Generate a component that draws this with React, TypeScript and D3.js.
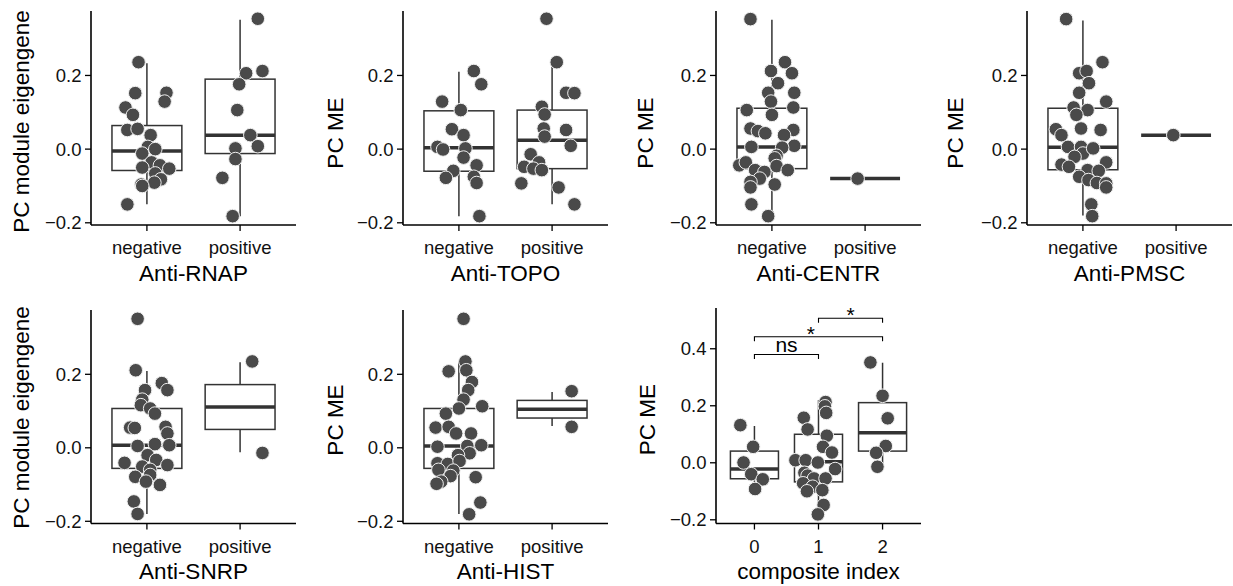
import * as d3 from "d3";

type Pt = [number, number]; // [eigengene value, horizontal jitter in category units]
type Box = [number, number, number, number, number]; // lower whisker, q1, median, q3, upper whisker

const posNeg = ["negative", "positive"];
const compositeCats = ["0", "1", "2"];

const ticksSmall = [-0.2, 0, 0.2];
const ticksWide = [-0.2, 0, 0.2, 0.4];

// Anti-RNAP
const rnapNeg: Pt[] = [[0.236,-0.09],[0.152,-0.125],[0.153,0.21],[0.129,0.19],[0.113,-0.23],[0.093,-0.15],[0.052,-0.21],[0.055,-0.1],[0.038,0.04],[0.006,0.01],[0.0,0.09],[-0.012,-0.05],[-0.036,0.05],[-0.05,-0.05],[-0.044,0.14],[-0.053,0.24],[-0.066,0.09],[-0.082,0.15],[-0.096,-0.06],[-0.091,0.08],[-0.1,-0.05],[-0.15,-0.21]];
const rnapPos: Pt[] = [[0.354,0.19],[0.206,0.065],[0.212,0.24],[0.176,-0.01],[0.106,-0.03],[0.038,0.11],[0.008,0.19],[0.002,-0.05],[-0.027,-0.05],[-0.078,-0.19],[-0.182,-0.08]];
const rnapBoxes: Box[] = [[-0.15,-0.058,-0.005,0.064,0.233],[-0.182,-0.012,0.038,0.19,0.351]];

// Anti-TOPO
const topoNeg: Pt[] = [[0.212,0.16],[0.176,0.24],[0.129,-0.18],[0.106,0.02],[0.054,-0.075],[0.038,0.05],[0.006,-0.23],[-0.001,-0.17],[0.002,0.07],[-0.023,0.05],[-0.044,0.19],[-0.059,-0.06],[-0.078,-0.14],[-0.075,0.16],[-0.092,0.19],[-0.182,0.22]];
const topoPos: Pt[] = [[0.354,-0.06],[0.236,0.05],[0.153,0.15],[0.152,0.24],[0.115,-0.11],[0.094,-0.08],[0.056,-0.09],[0.052,0.15],[0.034,-0.08],[0.009,0.2],[-0.014,-0.23],[-0.036,-0.14],[-0.048,-0.3],[-0.053,-0.2],[-0.057,-0.11],[-0.093,-0.33],[-0.104,0.07],[-0.15,0.24]];
const topoBoxes: Box[] = [[-0.182,-0.06,0.004,0.104,0.21],[-0.15,-0.053,0.024,0.106,0.233]];

// Anti-CENTR
const centrNeg: Pt[] = [[0.353,-0.23],[0.236,0.14],[0.212,-0.01],[0.206,0.215],[0.179,0.065],[0.153,-0.04],[0.153,0.24],[0.129,-0.01],[0.113,0.23],[0.106,-0.27],[0.093,0],[0.056,-0.23],[0.049,-0.15],[0.052,0.23],[0.038,0.13],[0.043,-0.07],[0.006,-0.22],[0.009,0.24],[0.004,0.11],[-0.018,0.05],[-0.025,0.03],[-0.044,-0.35],[-0.036,-0.28],[-0.057,-0.18],[-0.046,0.05],[-0.057,0.17],[-0.062,-0.08],[-0.08,-0.13],[-0.089,-0.23],[-0.104,-0.23],[-0.096,0.03],[-0.15,-0.22],[-0.182,-0.04]];
const centrPos: Pt[] = [[-0.08,-0.08]];
const centrBoxes: Box[] = [[-0.182,-0.053,0.006,0.111,0.351],[-0.08,-0.08,-0.08,-0.08,-0.08]];

// Anti-PMSC
const pmscNeg: Pt[] = [[0.353,-0.18],[0.236,0.21],[0.206,-0.04],[0.212,0.04],[0.179,0.065],[0.153,-0.04],[0.129,0.25],[0.113,-0.1],[0.106,0.05],[0.093,-0.07],[0.054,-0.29],[0.038,-0.23],[0.056,-0.02],[0.052,0.19],[0.006,-0.16],[0.006,-0.02],[-0.012,0],[0.002,0.11],[-0.021,-0.09],[-0.036,0.25],[-0.042,-0.23],[-0.048,-0.15],[-0.057,0.05],[-0.059,0.17],[-0.075,-0.04],[-0.084,0.06],[-0.092,0.15],[-0.093,0.25],[-0.104,0.25],[-0.15,0.09],[-0.182,0.1]];
const pmscPos: Pt[] = [[0.038,-0.03]];
const pmscBoxes: Box[] = [[-0.18,-0.056,0.005,0.111,0.349],[0.038,0.038,0.038,0.038,0.038]];

// Anti-SNRP
const snrpNeg: Pt[] = [[0.351,-0.1],[0.211,-0.12],[0.176,0.16],[0.157,0.22],[0.157,-0.02],[0.131,-0.05],[0.116,-0.065],[0.107,0.035],[0.093,0.086],[0.055,-0.18],[0.054,-0.13],[0.057,0.2],[0.039,0.22],[0.007,0.24],[0.01,0.086],[0.005,-0.1],[-0.02,0.007],[-0.033,0.1],[-0.041,-0.24],[-0.047,0.22],[-0.051,-0.05],[-0.06,0.035],[-0.079,-0.125],[-0.074,0.035],[-0.092,-0.01],[-0.101,0.14],[-0.146,-0.14],[-0.18,-0.1]];
const snrpPos: Pt[] = [[0.235,0.13],[-0.014,0.24]];
const snrpBoxes: Box[] = [[-0.18,-0.056,0.007,0.107,0.209],[-0.012,0.05,0.111,0.172,0.233]];

// Anti-HIST
const histNeg: Pt[] = [[0.351,0.05],[0.235,0.07],[0.211,0.08],[0.208,-0.11],[0.179,0.14],[0.157,0.1],[0.131,0.05],[0.113,0.25],[0.107,0],[0.093,-0.14],[0.055,-0.25],[0.057,-0.11],[0.039,-0.03],[0.039,0.13],[0.003,-0.23],[0.005,0.09],[0.007,0.24],[-0.015,0.115],[-0.02,-0.01],[-0.042,-0.23],[-0.044,-0.12],[-0.036,0.007],[-0.06,-0.22],[-0.062,-0.06],[-0.08,0.18],[-0.077,-0.09],[-0.092,-0.19],[-0.098,-0.24],[-0.149,0.23],[-0.181,0.11]];
const histPos: Pt[] = [[0.154,0.21],[0.057,0.21]];
const histBoxes: Box[] = [[-0.18,-0.056,0.005,0.107,0.233],[0.059,0.081,0.105,0.129,0.152]];

// composite index
const comp0: Pt[] = [[0.132,-0.22],[0.056,-0.02],[0.001,-0.17],[-0.04,-0.05],[-0.058,0.13],[-0.092,0.01]];
const comp1: Pt[] = [[0.213,0.11],[0.198,0.1],[0.175,0.12],[0.158,-0.23],[0.117,-0.17],[0.095,0.13],[0.056,0.07],[0.036,0.21],[0.009,-0.36],[0.009,-0.2],[0.001,-0.01],[-0.022,0.26],[-0.035,-0.22],[-0.045,-0.17],[-0.055,-0.07],[-0.055,0.11],[-0.072,-0.24],[-0.084,-0.09],[-0.096,0.06],[-0.1,-0.18],[-0.148,0.08],[-0.181,-0.01]];
const comp2: Pt[] = [[0.352,-0.19],[0.235,0],[0.156,0.08],[0.059,0.05],[0.035,-0.1],[-0.014,-0.08]];
const compBoxes: Box[] = [[-0.092,-0.056,-0.022,0.041,0.129],[-0.178,-0.067,0.004,0.1,0.22],[-0.014,0.041,0.105,0.211,0.351]];

// comparisons: [from index, to index, y value, label, label position in category units]
const compBrackets: [number, number, number, string, number][] = [
  [0, 1, 0.38, "ns", 0.5],
  [0, 2, 0.442, "*", 0.88],
  [1, 2, 0.507, "*", 1.5],
];

const FONT = "'Liberation Sans', Arial, Helvetica, sans-serif";
const PANEL_W = 205;
const DOMAIN_A: [number, number] = [-0.206, 0.375];
const DOMAIN_B: [number, number] = [-0.213, 0.543];

const panels = [
  { title: "Anti-RNAP", yLab: "PC module eigengene", cats: posNeg, pts: [rnapNeg, rnapPos], boxes: rnapBoxes, x0: 91, top: 11, bottom: 225, labX: 28.5, labY: 121.5, domain: DOMAIN_A, ticks: ticksSmall },
  { title: "Anti-TOPO", yLab: "PC ME", cats: posNeg, pts: [topoNeg, topoPos], boxes: topoBoxes, x0: 403, top: 11, bottom: 225, labX: 342.5, labY: 133, domain: DOMAIN_A, ticks: ticksSmall },
  { title: "Anti-CENTR", yLab: "PC ME", cats: posNeg, pts: [centrNeg, centrPos], boxes: centrBoxes, x0: 716, top: 11, bottom: 225, labX: 652.5, labY: 133, domain: DOMAIN_A, ticks: ticksSmall },
  { title: "Anti-PMSC", yLab: "PC ME", cats: posNeg, pts: [pmscNeg, pmscPos], boxes: pmscBoxes, x0: 1027, top: 11, bottom: 225, labX: 963, labY: 133, domain: DOMAIN_A, ticks: ticksSmall },
  { title: "Anti-SNRP", yLab: "PC module eigengene", cats: posNeg, pts: [snrpNeg, snrpPos], boxes: snrpBoxes, x0: 91, top: 310, bottom: 523.5, labX: 29, labY: 417.5, domain: DOMAIN_A, ticks: ticksSmall },
  { title: "Anti-HIST", yLab: "PC ME", cats: posNeg, pts: [histNeg, histPos], boxes: histBoxes, x0: 403, top: 310, bottom: 523.5, labX: 342.5, labY: 420, domain: DOMAIN_A, ticks: ticksSmall },
  { title: "composite index", yLab: "PC ME", cats: compositeCats, pts: [comp0, comp1, comp2], boxes: compBoxes, x0: 716, top: 308, bottom: 523.5, labX: 655, labY: 419.7, domain: DOMAIN_B, ticks: ticksWide, brackets: compBrackets },
];

const fmt = d3.format(".1f");

function Panel({ p }: { p: any }) {
  const x = d3.scalePoint<string>().domain(p.cats).range([p.x0, p.x0 + PANEL_W]).padding(0.6);
  const step = x.step();
  const y = d3.scaleLinear().domain(p.domain).range([p.bottom, p.top]);
  const bw = step * 0.75;
  const boxStroke = "#333333";

  return (
    <g>
      {/* boxes */}
      {p.cats.map((c: string, i: number) => {
        const [lo, q1, med, q3, hi] = p.boxes[i];
        const cx = x(c)!;
        return (
          <g key={"b" + c}>
            <line x1={cx} x2={cx} y1={y(lo)} y2={y(q1)} stroke={boxStroke} strokeWidth={1.5} />
            <line x1={cx} x2={cx} y1={y(q3)} y2={y(hi)} stroke={boxStroke} strokeWidth={1.5} />
            <rect x={cx - bw / 2} y={y(q3)} width={bw} height={Math.max(0, y(q1) - y(q3))} fill="#fff" stroke={boxStroke} strokeWidth={1.5} />
            <line x1={cx - bw / 2} x2={cx + bw / 2} y1={y(med)} y2={y(med)} stroke={boxStroke} strokeWidth={3.5} />
          </g>
        );
      })}
      {/* jittered points */}
      {p.cats.map((c: string, i: number) =>
        p.pts[i].map((d: Pt, j: number) => (
          <circle key={c + j} cx={x(c)! + d[1] * step} cy={y(d[0])} r={6.8} fill="#4a4a4a" stroke="#f0f0f0" strokeWidth={1} />
        ))
      )}
      {/* y axis */}
      <line x1={p.x0} x2={p.x0} y1={p.top} y2={p.bottom} stroke="#000" strokeWidth={1.6} />
      {p.ticks.map((t: number) => (
        <g key={"t" + t}>
          <line x1={p.x0 - 6} x2={p.x0} y1={y(t)} y2={y(t)} stroke="#000" strokeWidth={1.3} />
          <text x={p.x0 - 9.5} y={y(t)} dy="0.36em" textAnchor="end" fontSize={18.5} fontFamily={FONT} fill="#111">{fmt(t)}</text>
        </g>
      ))}
      {/* x axis */}
      <line x1={p.x0} x2={p.x0 + PANEL_W} y1={p.bottom} y2={p.bottom} stroke="#000" strokeWidth={1.6} />
      {p.cats.map((c: string) => (
        <g key={"x" + c}>
          <line x1={x(c)} x2={x(c)} y1={p.bottom} y2={p.bottom + 6} stroke="#000" strokeWidth={1.3} />
          <text x={x(c)} y={p.bottom + 29} textAnchor="middle" fontSize={18.5} fontFamily={FONT} fill="#111">{c}</text>
        </g>
      ))}
      <text x={p.x0 + PANEL_W / 2} y={p.bottom + 55.5} textAnchor="middle" fontSize={22.5} fontFamily={FONT} fill="#000">{p.title}</text>
      <text transform={`translate(${p.labX},${p.labY}) rotate(-90)`} textAnchor="middle" fontSize={22.5} fontFamily={FONT} fill="#000">{p.yLab}</text>
      {/* significance brackets */}
      {(p.brackets || []).map((b: [number, number, number, string, number], k: number) => {
        const xa = x(p.cats[b[0]])!;
        const xb = x(p.cats[b[1]])!;
        const yy = y(b[2]);
        const tip = y(b[2] - 0.016) - yy;
        const lx = x(p.cats[0])! + b[4] * step;
        return (
          <g key={"br" + k}>
            <path d={`M${xa},${yy + tip}V${yy}H${xb}V${yy + tip}`} fill="none" stroke="#000" strokeWidth={1.1} />
            <text x={lx} y={b[3] === "ns" ? yy - 2.7 : yy + 4} textAnchor="middle" fontSize={21} fontFamily={FONT} fill="#000">{b[3]}</text>
          </g>
        );
      })}
    </g>
  );
}

export default function App() {
  return (
    <svg width={1233} height={586} style={{ position: "absolute", left: 0, top: 0, background: "#fff" }}>
      <rect width={1233} height={586} fill="#fff" />
      {panels.map((p, i) => (
        <Panel key={i} p={p} />
      ))}
    </svg>
  );
}
